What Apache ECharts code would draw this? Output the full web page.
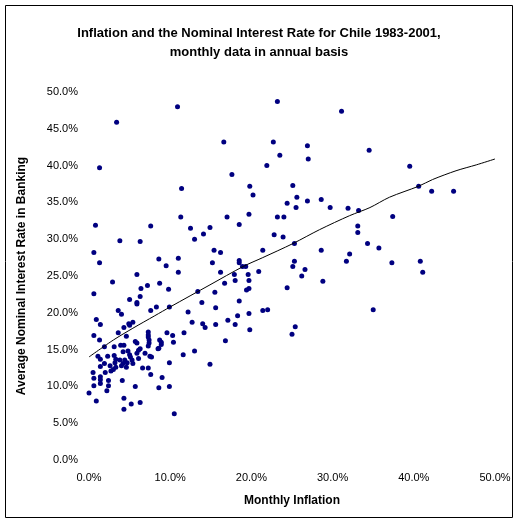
<!DOCTYPE html>
<html>
<head>
<meta charset="utf-8">
<title>Inflation and the Nominal Interest Rate for Chile 1983-2001</title>
<script src="https://cdn.jsdelivr.net/npm/echarts@6/dist/echarts.min.js"></script>
<style>
  html, body { margin: 0; padding: 0; background: #ffffff; }
  #chart { width: 518px; height: 524px; }
</style>
</head>
<body>
<div id="chart"></div>
<script>
// Monthly inflation (annualised, %) for each observation
var inflation = [
  23.2, 31.1, 16.6, 22.7, 26.9, 23.5, 27.0, 21.9, 17.6, 19.8,
  25.1, 20.2, 25.6, 24.4, 26.9, 28.6, 25.5, 29.7, 31.9, 33.2,
  17.0, 19.7, 23.2, 24.0, 18.5, 14.9, 22.8, 23.9, 33.1, 33.1,
  34.5, 39.5, 40.6, 42.2, 44.9, 37.4,
  15.4, 16.2, 15.2, 21.4, 25.3, 28.6, 32.1, 31.7, 18.5, 18.5,
  18.9, 19.3, 16.2, 17.9, 19.6, 20.9, 25.3, 25.1, 26.6, 26.2,
  28.8, 18.0, 19.7, 16.7, 15.5, 19.4, 19.7, 24.4, 18.5, 15.6,
  21.4, 22.0, 19.7, 18.3, 17.1, 15.6, 18.0, 19.8, 25.4, 25.0,
  16.8, 14.9,
  34.3, 35.7, 37.3, 40.8, 41.1, 35.0,
  10.9, 3.4, 1.3, 11.4, 11.3,
  0.8, 7.6, 12.5, 14.1, 13.0, 3.8, 6.3, 0.6, 1.3, 8.6,
  11.0, 9.5, 11.0, 5.9, 2.9, 8.7, 7.2, 6.4, 9.8, 0.6,
  13.4, 5.0, 6.3, 5.9, 5.9, 8.3, 9.9, 13.9, 7.6, 12.2,
  3.6, 4.0, 0.9, 1.4, 5.4, 4.9, 5.0, 4.3, 12.7, 14.0,
  14.3, 0.6, 1.3, 3.6, 4.6, 9.6, 10.3, 11.7,
  7.3, 7.3, 7.3, 7.4, 7.4, 7.3,
  5.7, 5.9, 1.9, 3.1, 3.9, 4.3, 4.2, 4.8, 5.0, 5.1,
  4.4, 5.3, 5.9, 6.1, 6.3, 6.9, 7.7, 7.5, 1.1, 1.4,
  1.9, 3.1, 3.3, 3.8, 1.4, 2.6, 3.2, 4.2, 4.7, 5.4,
  6.6, 7.3, 7.6, 0.5, 2.0, 2.7, 3.0, 0.6, 1.4, 1.4,
  2.4, 4.1, 0.6, 1.4, 2.4, 2.2, 0.0, 5.7, 0.9, 4.3,
  5.2, 6.3, 4.3,
  10.4, 8.7, 8.9, 8.9, 8.6, 8.5, 11.6, 13.0, 9.9, 9.0,
  8.6, 9.9, 10.5,
  2.3, 3.3, 4.0, 4.6, 6.1
];

// Average nominal interest rate in banking (%) for the same months
var rate = [
  48.7, 47.4, 43.2, 43.2, 42.7, 41.4, 40.9, 40.0, 38.8, 37.2,
  37.3, 36.0, 35.7, 34.9, 35.2, 35.4, 34.3, 34.3, 34.2, 33.9,
  33.0, 33.4, 33.0, 33.0, 32.0, 31.6, 30.6, 30.3, 31.8, 30.9,
  42.1, 39.9, 37.2, 36.5, 36.5, 33.1,
  28.5, 28.2, 26.8, 28.5, 29.4, 28.5, 28.0, 27.0, 27.1, 26.8,
  26.3, 26.3, 25.5, 25.2, 25.2, 25.6, 27.0, 26.3, 25.9, 25.0,
  24.3, 24.4, 24.4, 24.0, 22.8, 23.1, 23.3, 23.4, 21.6, 20.7,
  20.3, 20.4, 19.9, 19.6, 19.0, 18.4, 18.4, 17.7, 18.1, 17.1,
  16.2, 13.0,
  29.4, 28.8, 26.8, 27.0, 25.5, 20.4,
  48.0, 45.9, 39.7, 36.9, 33.0,
  31.9, 31.8, 31.5, 30.7, 30.0, 29.8, 29.7, 28.2, 26.8, 27.3,
  27.4, 26.4, 25.5, 25.2, 24.2, 24.0, 23.7, 23.3, 23.2, 22.6,
  22.9, 21.8, 22.2, 21.4, 21.2, 20.8, 20.8, 21.4, 20.3, 20.1,
  20.3, 19.8, 19.1, 18.4, 18.7, 18.5, 18.3, 18.0, 18.7, 18.5,
  18.0, 16.9, 16.3, 17.3, 16.8, 17.3, 16.9, 17.3,
  17.4, 17.0, 16.7, 16.3, 15.9, 15.5,
  16.1, 15.9, 15.4, 15.4, 15.6, 15.6, 14.7, 14.8, 14.3, 14.0,
  13.6, 13.6, 14.5, 14.9, 15.1, 14.5, 14.0, 14.1, 14.1, 13.7,
  13.1, 14.2, 13.7, 13.6, 12.7, 12.8, 13.2, 13.1, 13.2, 13.1,
  12.5, 12.5, 11.6, 11.9, 11.9, 12.1, 12.3, 11.1, 11.3, 10.9,
  10.8, 10.8, 10.1, 10.4, 10.1, 9.4, 9.1, 10.0, 8.0, 8.4,
  7.6, 7.8, 6.9,
  16.0, 16.3, 16.0, 15.7, 15.2, 15.1, 14.3, 14.8, 13.2, 11.2,
  9.8, 10.0, 6.3,
  14.1, 12.6, 12.8, 12.6, 13.8
];

// Trend curve through the cloud
var trendX = [0.0, 3.0, 5.4, 8.1, 10.0, 14.9, 19.0, 21.4, 25.1, 28.4, 32.1, 34.6, 37.0, 40.6, 42.3, 45.2, 47.7, 50.0];
var trendY = [14.0, 16.3, 17.9, 19.6, 20.8, 23.8, 26.3, 27.5, 29.4, 31.3, 33.2, 34.3, 35.7, 37.2, 38.1, 39.3, 40.1, 40.9];

// Axis tick values
var xTicks = [0, 10, 20, 30, 40, 50];
var yTicks = [0, 5, 10, 15, 20, 25, 30, 35, 40, 45, 50];

var scatterData = inflation.map(function (x, i) { return [x, rate[i]]; });
var trendData = trendX.map(function (x, i) { return [x, trendY[i]]; });

var font = '"Liberation Sans", Arial, sans-serif';
function pct(v) { return v.toFixed(1) + '%'; }

var chart = echarts.init(document.getElementById('chart'), null, { renderer: 'canvas' });
chart.setOption({
  backgroundColor: '#ffffff',
  animation: false,
  textStyle: { fontFamily: font },
  title: {
    text: 'Inflation and the Nominal Interest Rate for Chile 1983-2001,\nmonthly data in annual basis',
    left: 'center',
    top: 19,
    textStyle: { fontFamily: font, fontSize: 13, fontWeight: 'bold', color: '#000', lineHeight: 19, align: 'center' }
  },
  graphic: [{
    type: 'rect',
    shape: { x: 5.5, y: 5.5, width: 507, height: 512 },
    style: { fill: 'none', stroke: '#000', lineWidth: 1 },
    silent: true
  }],
  grid: { left: 89, right: 23, top: 92, bottom: 64, containLabel: false },
  xAxis: {
    type: 'value',
    min: xTicks[0],
    max: xTicks[xTicks.length - 1],
    interval: xTicks[1] - xTicks[0],
    name: 'Monthly Inflation',
    nameLocation: 'middle',
    nameGap: 35,
    nameTextStyle: { fontFamily: font, fontSize: 12, fontWeight: 'bold', color: '#000' },
    axisLine: { show: false },
    axisTick: { show: false },
    splitLine: { show: false },
    axisLabel: { fontFamily: font, fontSize: 11, color: '#000', margin: 12, formatter: pct }
  },
  yAxis: {
    type: 'value',
    min: yTicks[0],
    max: yTicks[yTicks.length - 1],
    interval: yTicks[1] - yTicks[0],
    name: 'Average Nominal Interest Rate in Banking',
    nameLocation: 'middle',
    nameGap: 61,
    nameTextStyle: { fontFamily: font, fontSize: 12, fontWeight: 'bold', color: '#000' },
    axisLine: { show: false },
    axisTick: { show: false },
    splitLine: { show: false },
    axisLabel: { fontFamily: font, fontSize: 11, color: '#000', margin: 11, formatter: pct }
  },
  series: [
    {
      type: 'scatter',
      data: scatterData,
      symbol: 'circle',
      symbolSize: 5,
      itemStyle: { color: '#000080', opacity: 1 },
      z: 2
    },
    {
      type: 'line',
      data: trendData,
      showSymbol: false,
      smooth: 0.3,
      lineStyle: { color: '#000', width: 1 },
      z: 3
    }
  ]
});
</script>
</body>
</html>
